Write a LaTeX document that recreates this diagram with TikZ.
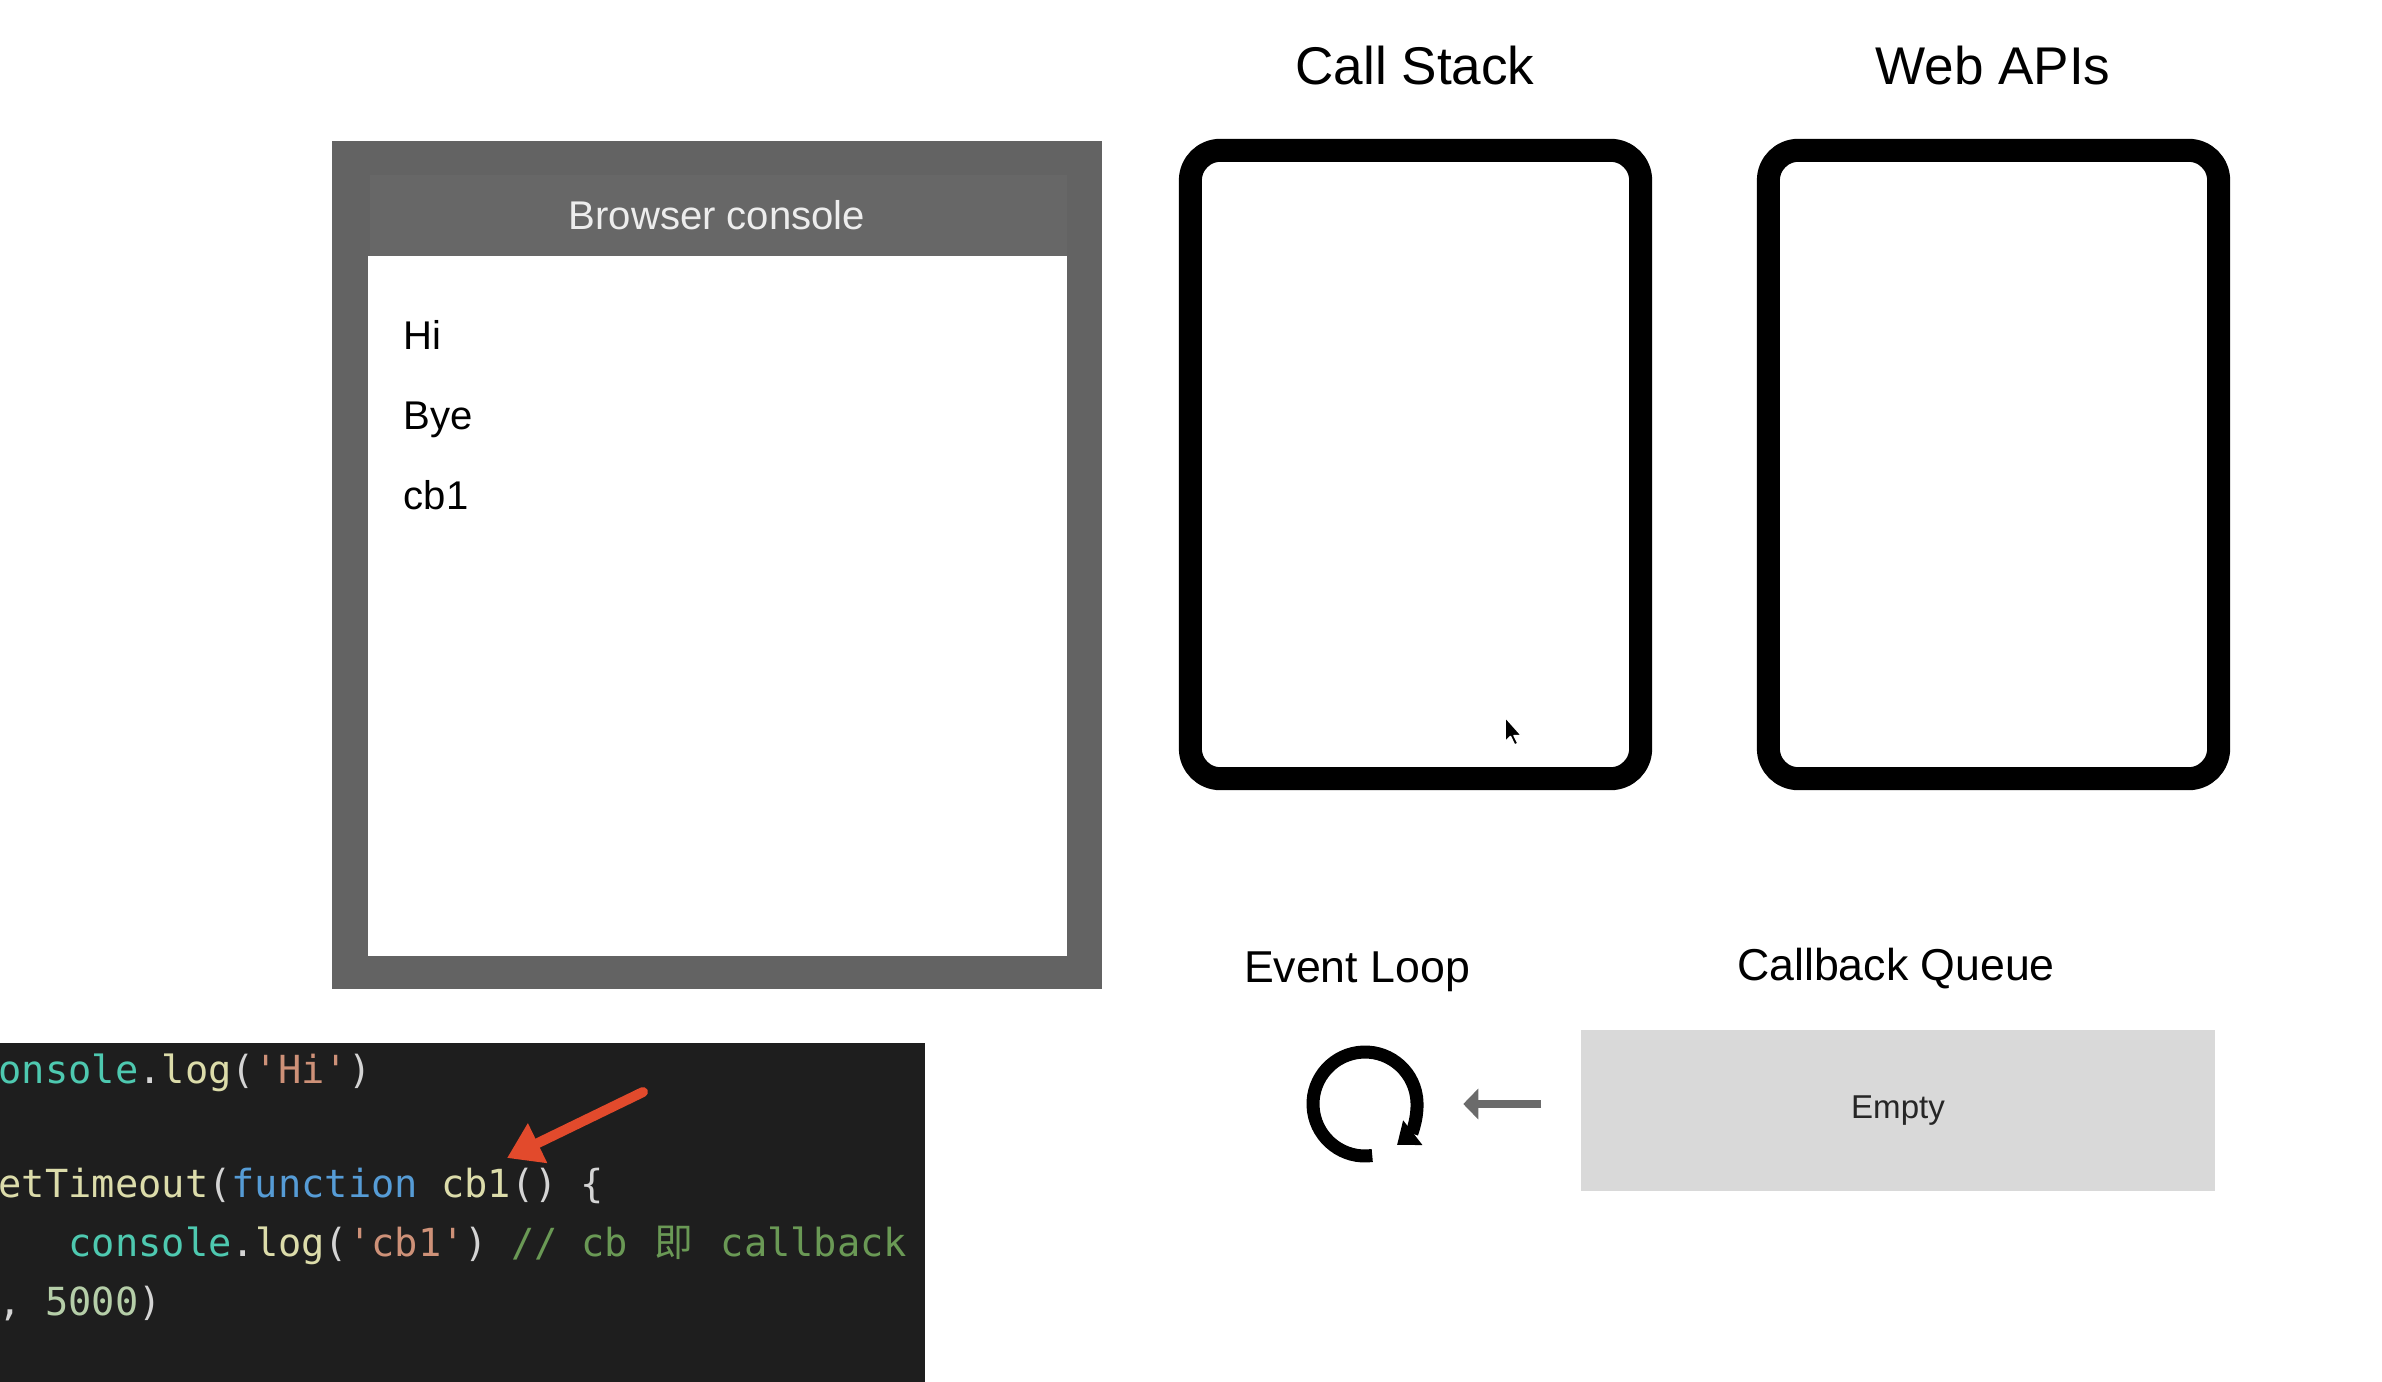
\documentclass[tikz,border=0pt]{standalone}
\usepackage{fontspec}
\setmainfont{Liberation Sans}
\setmonofont{DejaVu Sans Mono}
\newfontfamily\cjk{Noto Sans CJK SC}
\usetikzlibrary{arrows.meta}
\definecolor{framegray}{HTML}{636363}
\definecolor{bandgray}{HTML}{676767}
\definecolor{queuegray}{HTML}{D9D9D9}
\definecolor{codebg}{HTML}{1E1E1E}
\definecolor{cteal}{HTML}{4EC9B0}
\definecolor{cyellow}{HTML}{DCDCAA}
\definecolor{cwhite}{HTML}{D4D4D4}
\definecolor{corange}{HTML}{CE9178}
\definecolor{cblue}{HTML}{569CD6}
\definecolor{cgreen}{HTML}{6A9955}
\definecolor{cnumber}{HTML}{B5CEA8}
\definecolor{redmark}{RGB}{226,74,44}
\newcommand{\obj}[1]{\textcolor{cteal}{#1}}
\newcommand{\fnc}[1]{\textcolor{cyellow}{#1}}
\newcommand{\pun}[1]{\textcolor{cwhite}{#1}}
\newcommand{\str}[1]{\textcolor{corange}{#1}}
\newcommand{\kwd}[1]{\textcolor{cblue}{#1}}
\newcommand{\cmt}[1]{\textcolor{cgreen}{#1}}
\newcommand{\cnum}[1]{\textcolor{cnumber}{#1}}
\newcommand{\wide}[1]{\makebox[1.204em]{\cjk #1}}

\begin{document}
\begin{tikzpicture}[x=0.01cm,y=-0.01cm,
  titel/.style={font=\fontsize{15.1}{18}\selectfont, anchor=base, inner sep=0},
  label/.style={font=\fontsize{12.7}{15}\selectfont, anchor=base, inner sep=0},
  line/.style={font=\fontsize{11.4}{14}\selectfont, anchor=base west, inner sep=0},
  code/.style={font=\ttfamily\fontsize{11}{13}\selectfont, anchor=base west, inner sep=0},
  stackbox/.style={draw, line width=0.23cm, rounded corners=0.3cm, minimum width=4.5cm, minimum height=6.28cm, inner sep=0},
  frame/.style={fill=framegray, minimum width=7.7cm, minimum height=8.48cm, inner sep=0},
  screen/.style={fill=white, minimum width=6.99cm, minimum height=7cm, inner sep=0},
  queue/.style={fill=queuegray, minimum width=6.34cm, minimum height=1.61cm, inner sep=0, font=\fontsize{9.4}{11}\selectfont, text=black!85},
  loopline/.style={line width=0.13cm, -{Triangle[length=0.2cm,width=0.3cm]}},
  fetch/.style={line width=0.08cm, black!58, -{Triangle[length=0.15cm,width=0.3cm]}},
  pointer/.style={line width=0.1cm, redmark, line cap=round, -{Triangle[length=0.34cm,width=0.42cm]}},
  cursor/.style={fill=black, draw=white, line width=0.015cm, line join=round}]
\useasboundingbox (0,0) rectangle (2382,1382);
\node [frame] (console) at (717,565){};
\fill [bandgray] (370,175) rectangle (1067,256);
\node [screen] (screen) at (717.5,606){};
\node [line, text=white!93!black, anchor=base] (head) at (717,229){Browser console};
\node [line] (hi) at (403,349){Hi};
\node [line] (bye) at (403,429){Bye};
\node [line] (cb) at (403,509){cb1};
\node [stackbox] (stack) at (1415.5,464.5){};
\node [stackbox] (apis) at (1993.5,464.5){};
\node [titel] (stacklabel) at (1415,85){Call Stack};
\node [titel] (apislabel) at (1993,85){Web APIs};
\node [label] (looplabel) at (1357,982){Event Loop};
\node [label] (queuelabel) at (1896,980){Callback Queue};
\node [queue] (queue) at (1898,1110.5){Empty};
\node [circle, minimum size=1.17cm, inner sep=0] (loop) at (1365,1104){};
\draw [loopline] ([shift={(82:52)}]loop.center) arc[start angle=82, end angle=412, radius=52];
\draw [fetch] ([xshift=-0.39cm]queue.west |- loop.east) -- ([xshift=0.39cm]loop.east);
\draw [cursor, shift={(1505,717)}] (0,0) -- (0,25) -- (5.5,19.5) -- (9.5,28) -- (13,26.5) -- (9,18.5) -- (16.5,18.5) -- cycle;
\fill [codebg] (0,1043) rectangle (925,1382);
\node [code] (l1) at (-2,1083){\obj{onsole}\pun{.}\fnc{log}\pun{(}\str{'Hi'}\pun{)}};
\node [code] (l3) at (-2,1197){\fnc{etTimeout}\pun{(}\kwd{function} \fnc{cb1}\pun{() \{}};
\node [code] (l4) at (68,1256){\obj{console}\pun{.}\fnc{log}\pun{(}\str{'cb1'}\pun{)} \cmt{// cb \wide{即} callback}};
\node [code] (l5) at (-2,1315){\pun{,} \cnum{5000}\pun{)}};
\coordinate (redtail) at (643,1092);
\coordinate (redtip) at (507,1158);
\draw [pointer] (redtail) -- (redtip);
\end{tikzpicture}
\end{document}
